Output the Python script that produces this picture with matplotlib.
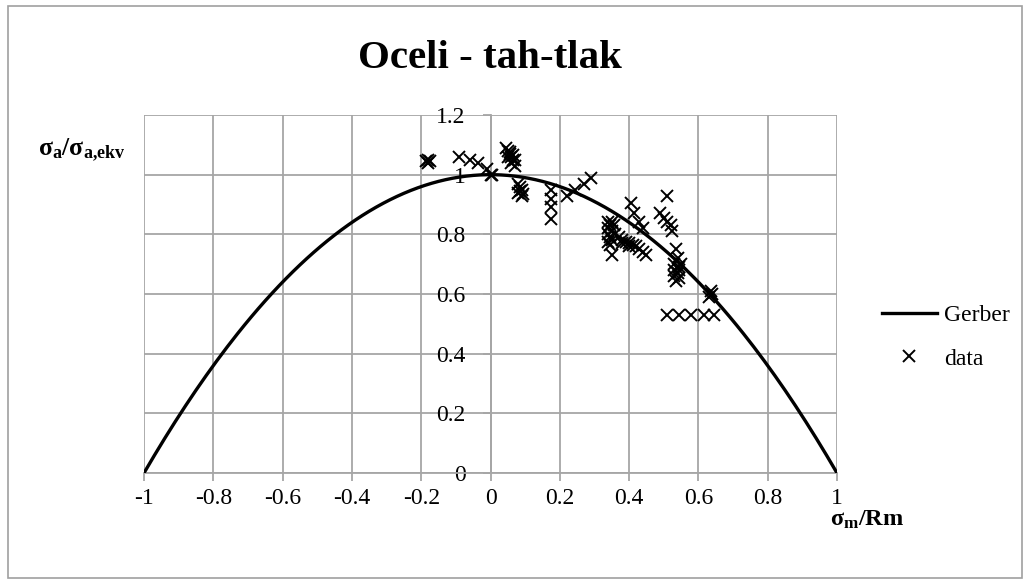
import numpy as np
import matplotlib
matplotlib.use('Agg')
from matplotlib import pyplot as plt
from matplotlib.patches import Rectangle
from matplotlib.lines import Line2D

plt.rcParams['font.family'] = ['Liberation Serif', 'DejaVu Serif']
plt.rcParams['mathtext.fontset'] = 'custom'
plt.rcParams['mathtext.rm'] = 'Liberation Serif'
plt.rcParams['mathtext.bf'] = 'Liberation Serif:bold'

title = 'Oceli - tah-tlak'
x_ticks = [-1, -0.8, -0.6, -0.4, -0.2, 0, 0.2, 0.4, 0.6, 0.8, 1]
y_ticks = [0, 0.2, 0.4, 0.6, 0.8, 1, 1.2]

# measured points (sigma_m/Rm, sigma_a/sigma_a,ekv)
data_x = [-0.18, -0.18, -0.175, -0.185,
          -0.09, -0.06, -0.035, -0.01, 0.0, 0.005,
          0.045, 0.05, 0.055, 0.06, 0.05, 0.065, 0.06, 0.07, 0.055, 0.065, 0.07,
          0.08, 0.085, 0.09, 0.08, 0.09, 0.085, 0.095,
          0.175, 0.175, 0.175, 0.175,
          0.22, 0.245, 0.27, 0.29,
          0.34, 0.345, 0.34, 0.35, 0.34, 0.345, 0.35, 0.34, 0.355, 0.36, 0.35, 0.345, 0.35,
          0.37, 0.38, 0.39, 0.40, 0.41, 0.42, 0.43, 0.44, 0.45, 0.40, 0.38,
          0.405, 0.415, 0.43, 0.44,
          0.51, 0.49, 0.50, 0.51, 0.525, 0.52,
          0.535, 0.54, 0.53, 0.545, 0.53, 0.54, 0.53, 0.545, 0.535, 0.55, 0.545,
          0.635, 0.63, 0.64,
          0.51, 0.545, 0.58, 0.615, 0.645]
data_y = [1.04, 1.05, 1.045, 1.045,
          1.06, 1.05, 1.04, 1.02, 1.0, 1.0,
          1.09, 1.08, 1.07, 1.06, 1.06, 1.05, 1.04, 1.03, 1.075, 1.065, 1.05,
          0.97, 0.96, 0.95, 0.94, 0.93, 0.945, 0.935,
          0.95, 0.92, 0.89, 0.85,
          0.93, 0.95, 0.97, 0.99,
          0.84, 0.83, 0.82, 0.81, 0.80, 0.79, 0.78, 0.775, 0.83, 0.80, 0.84, 0.765, 0.73,
          0.79, 0.78, 0.775, 0.77, 0.765, 0.76, 0.75, 0.74, 0.73, 0.76, 0.77,
          0.905, 0.87, 0.84, 0.82,
          0.93, 0.87, 0.855, 0.84, 0.81, 0.83,
          0.75, 0.72, 0.70, 0.69, 0.68, 0.67, 0.66, 0.655, 0.645, 0.70, 0.68,
          0.61, 0.59, 0.60,
          0.53, 0.53, 0.53, 0.53, 0.53]

# Gerber parabola
gx = np.linspace(-1, 1, 201)
gy = 1 - gx ** 2

fig = plt.figure(figsize=(10.3, 5.84), dpi=100)
ax = fig.add_axes([144 / 1030, 1 - 473 / 584, (837 - 144) / 1030, (473 - 115) / 584])

grid_c = '#a6a6a6'
ax.plot(gx, gy, color='black', lw=2.4, label='Gerber', zorder=3)
ax.plot(data_x, data_y, ls='none', marker='x', ms=9, mew=1.4, color='black',
        label='data', zorder=4)

ax.set_xlim(-1, 1)
ax.set_ylim(0, 1.2)
ax.set_xticks(x_ticks)
ax.set_yticks(y_ticks)
ax.set_xticklabels(['%g' % v for v in x_ticks])
ax.set_yticklabels(['%g' % v for v in y_ticks])
ax.grid(True, color=grid_c, lw=1.3)
ax.set_axisbelow(True)

for s in ['top', 'right']:
    ax.spines[s].set_visible(False)
ax.spines['left'].set_position(('data', 0))
ax.spines['left'].set_color(grid_c)
ax.spines['left'].set_linewidth(1.3)
ax.spines['bottom'].set_color(grid_c)
ax.spines['bottom'].set_linewidth(1.3)
ax.tick_params(axis='x', direction='out', length=6, width=1.3, color=grid_c,
               labelsize=17, pad=5)
ax.tick_params(axis='y', direction='out', length=6, width=1.3, color=grid_c,
               labelsize=17, pad=12)

fig.text(490 / 1030, 1 - 58 / 584, title, ha='center', va='center',
         fontsize=29.5, fontweight='bold')
fig.text(38 / 1030, 1 - 150 / 584, r'$\mathbf{σ_a/σ_{a{,}ekv}}$', ha='left',
         va='center', fontsize=18.5)
fig.text(830 / 1030, 1 - 520 / 584, r'$\mathbf{σ_m/Rm}$', ha='left',
         va='center', fontsize=17.5)

handles = [Line2D([0], [0], color='black', lw=2.4),
           Line2D([0], [0], ls='none', marker='x', ms=9, mew=1.4, color='black')]
fig.legend(handles, ['Gerber', 'data'], loc='center left',
           bbox_to_anchor=(861 / 1030, 1 - 337 / 584), frameon=False,
           fontsize=17, handlelength=2.3, handletextpad=0.3, labelspacing=0.95)

fig.patches.append(Rectangle((8 / 1030, 6 / 584), 1014 / 1030, 572 / 584,
                             transform=fig.transFigure, fill=False,
                             edgecolor='#a0a0a0', lw=1.2))

fig.savefig('out.png', dpi=100)
